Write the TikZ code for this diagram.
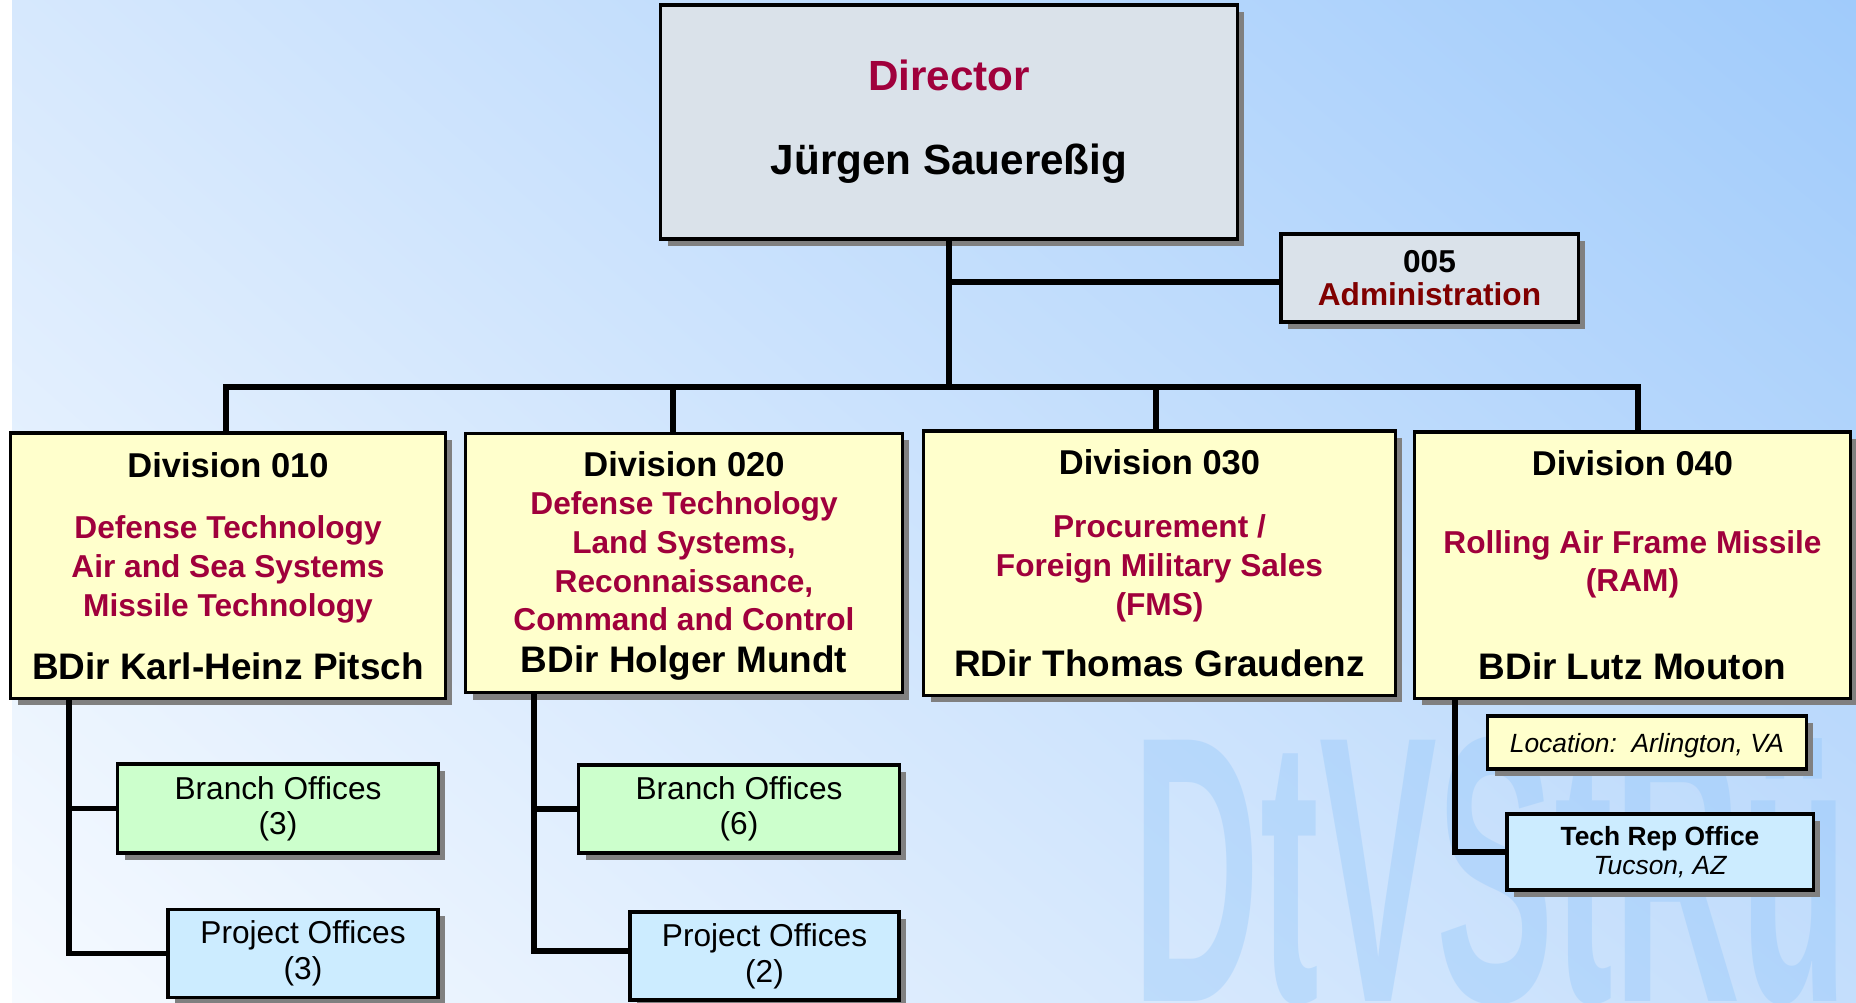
\documentclass[tikz,border=0pt]{standalone}
\usepackage{fontspec}
\setmainfont{Liberation Sans}
\usetikzlibrary{positioning}
\usetikzlibrary{calc}
\usetikzlibrary{shadows}
\usetikzlibrary{shadings}
\definecolor{dirred}{RGB}{160,0,60}
\definecolor{admred}{RGB}{128,0,0}
\definecolor{dirgray}{RGB}{218,226,234}
\definecolor{divyellow}{RGB}{255,255,204}
\definecolor{brgreen}{RGB}{204,255,204}
\definecolor{prblue}{RGB}{204,236,255}
\definecolor{shadowgray}{RGB}{128,128,128}
\definecolor{wmblue}{RGB}{140,195,250}
\definecolor{bgul}{RGB}{214,232,253}
\definecolor{bgur}{RGB}{160,203,251}
\definecolor{bgll}{RGB}{246,250,255}
\definecolor{bglr}{RGB}{196,222,252}

\tikzset{
  orgbox/.style={draw, rectangle, line width= 0.9, inner sep=0, align=center,
    drop shadow={shadow xshift=0.07cm, shadow yshift=-0.07cm, fill=shadowgray, opacity=1}},
  dirbox/.style={orgbox, fill=dirgray, minimum width=5.76cm, minimum height=2.34cm,
    font=\bfseries\fontsize{12}{14.4}\selectfont},
  admbox/.style={orgbox, fill=dirgray, minimum width=2.97cm, minimum height=0.88cm,
    font=\bfseries\fontsize{9}{9.5}\selectfont},
  divbox/.style={orgbox, fill=divyellow, minimum height=2.64cm},
  brbox/.style={orgbox, fill=brgreen, minimum width=3.2cm, minimum height=0.88cm,
    font=\fontsize{9}{10}\selectfont},
  prbox/.style={orgbox, fill=prblue, minimum width=2.7cm, minimum height=0.88cm,
    font=\fontsize{9}{10.2}\selectfont},
  locbox/.style={orgbox, fill=divyellow, minimum width=3.18cm, minimum height=0.53cm,
    text height=5.8pt, text depth=0pt, font=\itshape\fontsize{7.5}{9}\selectfont},
  techbox/.style={orgbox, fill=prblue, minimum width=3.06cm, minimum height=0.76cm,
    font=\fontsize{7.5}{8.05}\selectfont},
  hdr/.style={anchor=base, inner sep=0, font=\bfseries\fontsize{9.8}{12}\selectfont},
  redtxt/.style={anchor=base, inner sep=0, align=center, text=dirred,
    font=\bfseries\fontsize{9}{11}\selectfont},
  boss/.style={anchor=base, inner sep=0, font=\bfseries\fontsize{10.5}{12}\selectfont},
  wmark/.style={anchor=base west, inner sep=0, text=wmblue, text opacity=0.34,
    font=\bfseries\fontsize{108}{108}\selectfont},
  conn/.style={line width= 1.6}
}

\begin{document}
\begin{tikzpicture}[x=0.01cm, y=-0.01cm]
        % background %
        \useasboundingbox (0,0) rectangle (1856,1002);
        \fill[white] (0,0) rectangle (1856,1002);
        \shade[upper left=bgul, upper right=bgur, lower left=bgll, lower right=bglr] (12,0) rectangle (1856,1002);
        \node[wmark] (wm) at (1132,1001) {\scalebox{0.465}[1]{DtVStRü}};

        % nodes %
        \node[dirbox] (dir) at (949,122) {{\color{dirred}Director}\\[9.4pt]Jürgen Sauereßig};
        \node[admbox] (adm) at (1429.5,278) {005\\{\color{admred}Administration}};

        \node[divbox, minimum width=4.34cm, minimum height=2.65cm] (d010) at (228,565.5) {};
        \node[divbox, minimum width=4.36cm, minimum height=2.59cm] (d020) at (684,563) {};
        \node[divbox, minimum width=4.71cm] (d030) at (1159.5,563) {};
        \node[divbox, minimum width=4.35cm, minimum height=2.66cm] (d040) at (1632.5,565) {};

        % red lines sit on the baseline of their last line %
        \node[hdr] (h010) at (228,477) {Division 010};
        \node[redtxt] (t010) at (228,616) {Defense Technology\\Air and Sea Systems\\Missile Technology};
        \node[boss] (n010) at (228,679) {BDir Karl-Heinz Pitsch};

        \node[hdr] (h020) at (684,476.7) {Division 020};
        \node[redtxt] (t020) at (684,630.7) {Defense Technology\\Land Systems,\\Reconnaissance,\\Command and Control};
        \node[boss] (n020) at (684,672.7) {BDir Holger Mundt};

        \node[hdr] (h030) at (1159.5,474.3) {Division 030};
        \node[redtxt] (t030) at (1159.5,615) {Procurement /\\Foreign Military Sales\\(FMS)};
        \node[boss] (n030) at (1159.5,676) {RDir Thomas Graudenz};

        \node[hdr] (h040) at (1632.5,475) {Division 040};
        \node[redtxt] (t040) at (1632.5,591.7) {Rolling Air Frame Missile\\(RAM)};
        \node[boss] (n040) at (1632.5,679.3) {BDir Lutz Mouton};

        \node[brbox, minimum height=0.89cm] (br3) at (278,808.5) {Branch Offices\\(3)};
        \node[prbox] (pr3) at (303,953.5) {Project Offices\\(3)};
        \node[brbox] (br6) at (739,809) {Branch Offices\\(6)};
        \node[prbox, minimum width=2.69cm] (pr2) at (764.5,956) {Project Offices\\(2)};

        \node[locbox] (loc) at (1647,742.5) {Location:\ \ Arlington, VA};
        \node[techbox] (tech) at (1660,852) {{\bfseries Tech Rep Office}\\{\itshape Tucson, AZ}};

        % edges %
        \coordinate (b010) at (226,387);
        \coordinate (b020) at (673,387);
        \coordinate (b030) at (1156,387);
        \coordinate (b040) at (1638,387);
        \coordinate (a005) at (949,282);
        \coordinate (s010) at (69,0);
        \coordinate (s020) at (534,0);
        \coordinate (p020) at (534,951);
        \coordinate (s040) at (1455,0);

        \draw[conn] (dir.south) -- (dir.south |- b010);
        \draw[conn] (a005) -- (a005 -| adm.west);
        \draw[conn] (b010 |- d010.north) -- (b010) -- (b040) -- (b040 |- d040.north);
        \draw[conn] (b020) -- (b020 |- d020.north);
        \draw[conn] (b030) -- (b030 |- d030.north);

        \draw[conn] (s010 |- d010.south) |- (pr3.west);
        \draw[conn] (s010 |- br3.west) -- (br3.west);
        \draw[conn] (s020 |- d020.south) -- (p020) -- (p020 -| pr2.west);
        \draw[conn] (s020 |- br6.west) -- (br6.west);
        \draw[conn] (s040 |- d040.south) |- (tech.west);
      \end{tikzpicture}
\end{document}
